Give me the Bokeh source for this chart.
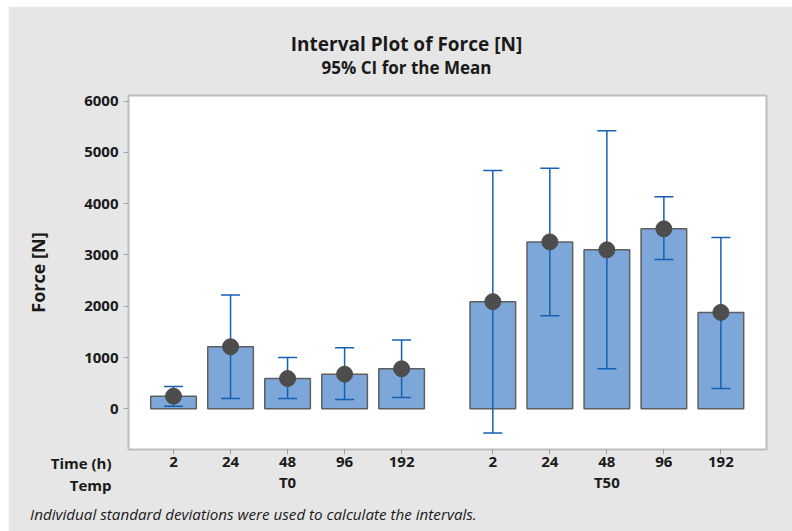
from bokeh.plotting import figure
from bokeh.models import ColumnDataSource, FixedTicker, LinearAxis, Range1d, Spacer, Label
from bokeh.layouts import column, row
from bokeh.embed import file_html
from bokeh.resources import INLINE

# ---- data ----
times = ["2", "24", "48", "96", "192"]
temps = ["T0", "T50"]
mean_T0 = [245, 1210, 590, 675, 780]
lower_T0 = [50, 200, 200, 180, 220]
upper_T0 = [435, 2220, 1000, 1190, 1340]
mean_T50 = [2090, 3255, 3100, 3510, 1880]
lower_T50 = [-470, 1815, 780, 2910, 395]
upper_T50 = [4650, 4690, 5425, 4135, 3340]
y_ticks = [0, 1000, 2000, 3000, 4000, 5000, 6000]
row_labels = ["Time (h)", "Temp"]
title_text = "Interval Plot of Force [N]"
subtitle_text = "95% CI for the Mean"
footnote_text = "Individual standard deviations were used to calculate the intervals."

# ---- layout positions ----
group_gap = 0.6
xs, labels, means, lows, highs = [], [], [], [], []
group_centers = []
for g, (m, lo, hi) in enumerate([(mean_T0, lower_T0, upper_T0), (mean_T50, lower_T50, upper_T50)]):
    start = 1 + g * (len(times) + group_gap)
    pos = [start + i for i in range(len(times))]
    xs += pos
    labels += times
    means += m
    lows += lo
    highs += hi
    group_centers.append(sum(pos) / len(pos))

src = ColumnDataSource(dict(x=xs, mean=means, lo=lows, hi=highs))

FONT = "Open Sans"
TXT = "#1a1a1a"
BLUE = "#1560B2"

p = figure(width=784, height=525, output_backend="svg", toolbar_location=None,
           x_range=Range1d(0.21, 11.4), y_range=Range1d(-794, 6111),
           min_border_left=120, min_border_right=26, min_border_top=87, min_border_bottom=82)
p.border_fill_color = "#E6E6E6"
p.background_fill_color = "white"
p.outline_line_color = "#BDBDBD"
p.outline_line_width = 2
p.xgrid.visible = False
p.ygrid.visible = False

# bars
p.vbar(x="x", top="mean", width=0.8, source=src, fill_color="#7DA7D9",
       line_color="#5F5F5F", line_width=1.5)
# intervals
p.segment(x0="x", y0="lo", x1="x", y1="hi", source=src, line_color=BLUE, line_width=1.5)
p.scatter(x="x", y="lo", source=src, marker="dash", size=19, line_color=BLUE, line_width=1.5)
p.scatter(x="x", y="hi", source=src, marker="dash", size=19, line_color=BLUE, line_width=1.5)
# means
p.scatter(x="x", y="mean", source=src, size=16, fill_color="#4D4D4D", line_color="#4D4D4D")

def style_labels(ax, size="15px", style="bold"):
    ax.major_label_text_font = FONT
    ax.major_label_text_font_style = style
    ax.major_label_text_font_size = size
    ax.major_label_text_color = TXT
    ax.axis_line_color = None
    ax.minor_tick_line_color = None

# y axis
ya = p.yaxis[0]
ya.ticker = FixedTicker(ticks=y_ticks)
style_labels(ya)
ya.axis_label = "Force [N]"
ya.axis_label_text_font = FONT
ya.axis_label_text_font_style = "bold"
ya.axis_label_text_font_size = "18px"
ya.axis_label_text_color = TXT
ya.axis_label_standoff = 31
ya.major_tick_line_color = "#A0A0A0"
ya.major_tick_out = 5
ya.major_tick_in = 0
ya.major_label_standoff = 5

# x axis (time)
xa = p.xaxis[0]
xa.ticker = FixedTicker(ticks=xs)
xa.major_label_overrides = {x: l for x, l in zip(xs, labels)}
style_labels(xa)
xa.major_tick_line_color = "#A0A0A0"
xa.major_tick_out = 5
xa.major_tick_in = 0
xa.major_label_standoff = 2

# x axis (temp)
xa2 = LinearAxis(ticker=FixedTicker(ticks=group_centers),
                 major_label_overrides={x: t for x, t in zip(group_centers, temps)})
style_labels(xa2)
xa2.major_tick_line_color = None
xa2.major_tick_out = 0
xa2.major_label_standoff = 2
p.add_layout(xa2, "below")

# footnote (as a single-label axis below)
foot_pos = 2.4
xa3 = LinearAxis(ticker=FixedTicker(ticks=[foot_pos]), major_label_overrides={foot_pos: footnote_text})
style_labels(xa3, size="15.2px", style="italic")
xa3.major_tick_line_color = None
xa3.major_tick_out = 0
xa3.major_label_standoff = 9
p.add_layout(xa3, "below")

def side_label(text, y, xoff, yoff, size, align):
    # labels live in the top side panel so they are not clipped to the frame
    p.add_layout(Label(x=p.x_range.start, y=y, x_offset=xoff, y_offset=yoff,
                       text=text, text_font=FONT, text_font_style="bold", text_font_size=size,
                       text_color=TXT, text_align=align, text_baseline="middle"), "above")

# titles
side_label(title_text, p.y_range.end, 278, 52, "19px", "center")
side_label(subtitle_text, p.y_range.end, 278, 28, "17px", "center")
# row labels of the categorical axis
for text, yoff in zip(row_labels, [-13, -35.5]):
    side_label(text, p.y_range.start, -17, yoff, "15px", "right")

layout = column(Spacer(width=792, height=6), row(Spacer(width=8, height=525), p))
open("out.html", "w").write(file_html(layout, INLINE))
